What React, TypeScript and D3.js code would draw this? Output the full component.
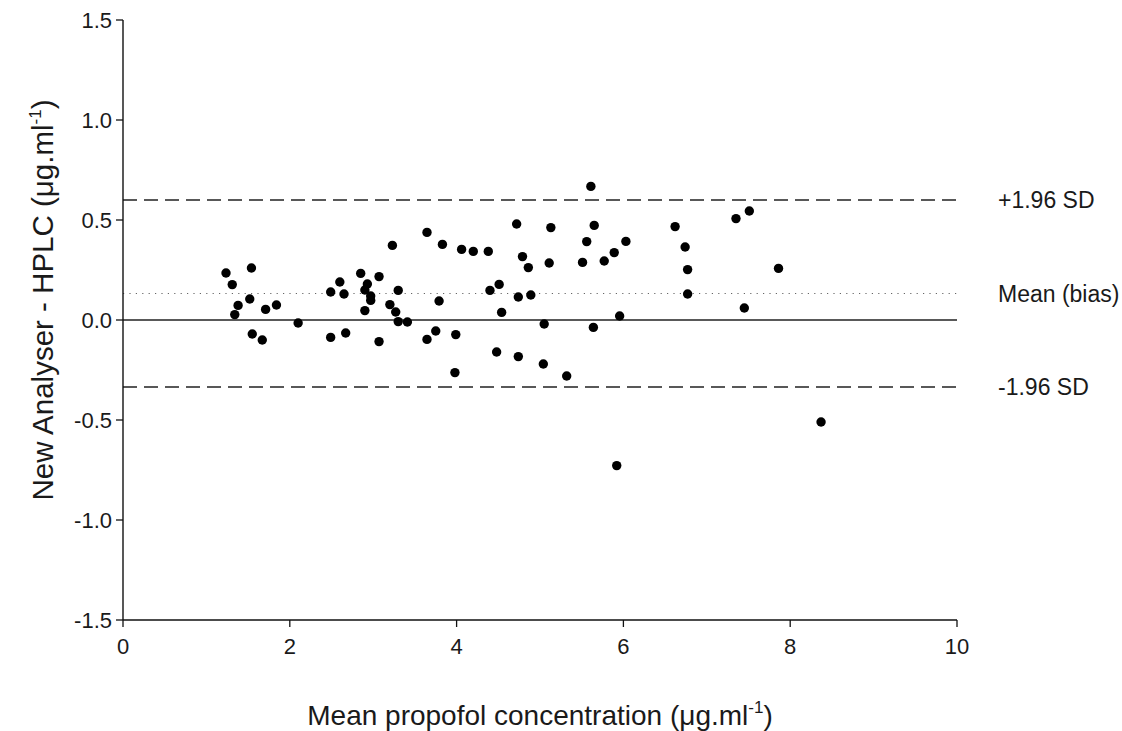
import React from "react";
import * as d3 from "d3";

// Mean propofol concentration (µg/ml) for each sample
const meanConc: number[] = [
  1.235, 1.31, 1.54, 1.38, 1.34, 1.52, 1.71, 1.84, 1.55, 1.67,
  2.10, 2.49, 2.60, 2.65, 2.49, 2.67, 2.85, 2.93, 2.90, 2.97,
  2.97, 2.90, 3.07, 3.07, 3.23, 3.20, 3.27, 3.30, 3.30, 3.41,
  3.645, 3.83, 4.06, 4.20, 4.38, 3.79, 3.645, 3.75, 3.99, 3.98,
  4.40, 4.51, 4.54, 4.48, 4.72, 4.79, 4.86, 4.74, 4.89, 4.74,
  5.05, 5.04, 5.13, 5.11, 5.32, 5.61, 5.65, 5.56, 5.51, 5.64,
  5.77, 5.89, 6.03, 5.955, 6.62, 6.74, 6.77, 6.77, 7.35, 7.51,
  7.45, 7.86, 5.92, 8.37,
];

// Difference New Analyser - HPLC (µg/ml)
const difference: number[] = [
  0.235, 0.177, 0.26, 0.073, 0.027, 0.105, 0.053, 0.075, -0.07, -0.10,
  -0.015, 0.14, 0.19, 0.13, -0.087, -0.065, 0.233, 0.18, 0.15, 0.12,
  0.098, 0.047, 0.217, -0.108, 0.373, 0.077, 0.04, 0.148, -0.008, -0.01,
  0.438, 0.378, 0.353, 0.343, 0.343, 0.095, -0.097, -0.055, -0.073, -0.263,
  0.148, 0.178, 0.038, -0.16, 0.48, 0.317, 0.262, 0.115, 0.125, -0.183,
  -0.02, -0.22, 0.462, 0.285, -0.28, 0.668, 0.473, 0.392, 0.288, -0.037,
  0.295, 0.337, 0.393, 0.02, 0.467, 0.365, 0.252, 0.13, 0.507, 0.545,
  0.06, 0.258, -0.728, -0.51,
];

const xTicks: number[] = [0, 2, 4, 6, 8, 10];
const yTicks: number[] = [-1.5, -1.0, -0.5, 0.0, 0.5, 1.0, 1.5];

const limitLabels: string[] = ["+1.96 SD", "Mean (bias)", "-1.96 SD"];
const limitValues: number[] = [0.6, 0.1325, -0.335];
const limitStyles: string[] = ["dashed", "dotted", "dashed"];

const FONT = "'Liberation Sans', Arial, Helvetica, sans-serif";

export default function App() {
  const width = 1122;
  const height = 731;
  const x = d3.scaleLinear().domain([0, 10]).range([123, 957]);
  const y = d3.scaleLinear().domain([-1.5, 1.5]).range([620, 20]);

  const points = meanConc.map((m, i) => ({ m, d: difference[i] }));

  return (
    <svg
      width={width}
      height={height}
      style={{ position: "absolute", left: 0, top: 0, background: "#fff" }}
      fontFamily={FONT}
    >
      <rect x={0} y={0} width={width} height={height} fill="#fff" />

      {/* zero line */}
      <line x1={x(0)} x2={x(10)} y1={y(0)} y2={y(0)} stroke="#222" strokeWidth={1.4} />

      {/* limits of agreement and bias */}
      {limitValues.map((v, i) => (
        <g key={"lim" + i}>
          <line
            x1={x(0)}
            x2={x(10)}
            y1={y(v)}
            y2={y(v)}
            stroke={limitStyles[i] === "dotted" ? "#666" : "#222"}
            strokeWidth={limitStyles[i] === "dotted" ? 1.1 : 1.6}
            strokeDasharray={limitStyles[i] === "dotted" ? "1.2,5.2" : "14,7"}
          />
          <text x={998} y={y(v) + 8} fontSize={23} fill="#1a1a1a">
            {limitLabels[i]}
          </text>
        </g>
      ))}

      {/* points */}
      {points.map((p, i) => (
        <circle key={"pt" + i} cx={x(p.m)} cy={y(p.d)} r={4.7} fill="#000" />
      ))}

      {/* axes */}
      <line x1={x(0)} x2={x(0)} y1={y(1.5)} y2={y(-1.5)} stroke="#111" strokeWidth={1.4} />
      <line x1={x(0)} x2={x(10)} y1={y(-1.5)} y2={y(-1.5)} stroke="#111" strokeWidth={1.4} />

      {yTicks.map((t) => (
        <g key={"yt" + t}>
          <line x1={x(0) - 7} x2={x(0)} y1={y(t)} y2={y(t)} stroke="#111" strokeWidth={1.3} />
          <text
            x={112}
            y={y(t) + 8}
            textAnchor="end"
            fontSize={22}
            fill="#1a1a1a"
          >
            {t.toFixed(1)}
          </text>
        </g>
      ))}

      {xTicks.map((t) => (
        <g key={"xt" + t}>
          <line x1={x(t)} x2={x(t)} y1={y(-1.5)} y2={y(-1.5) + 7} stroke="#111" strokeWidth={1.3} />
          <text x={x(t)} y={654} textAnchor="middle" fontSize={22} fill="#1a1a1a">
            {t}
          </text>
        </g>
      ))}

      {/* x axis title */}
      <text x={540} y={725} textAnchor="middle" fontSize={28} fill="#1a1a1a">
        Mean propofol concentration (μg.ml
        <tspan fontSize={17} dy={-12}>-1</tspan>
        <tspan dy={12}>)</tspan>
      </text>

      {/* y axis title */}
      <g transform={`translate(53,300) rotate(-90)`}>
        <text textAnchor="middle" fontSize={29.5} fill="#1a1a1a">
          New Analyser - HPLC (μg.ml
          <tspan fontSize={17} dy={-12}>-1</tspan>
          <tspan dy={12}>)</tspan>
        </text>
      </g>
    </svg>
  );
}
